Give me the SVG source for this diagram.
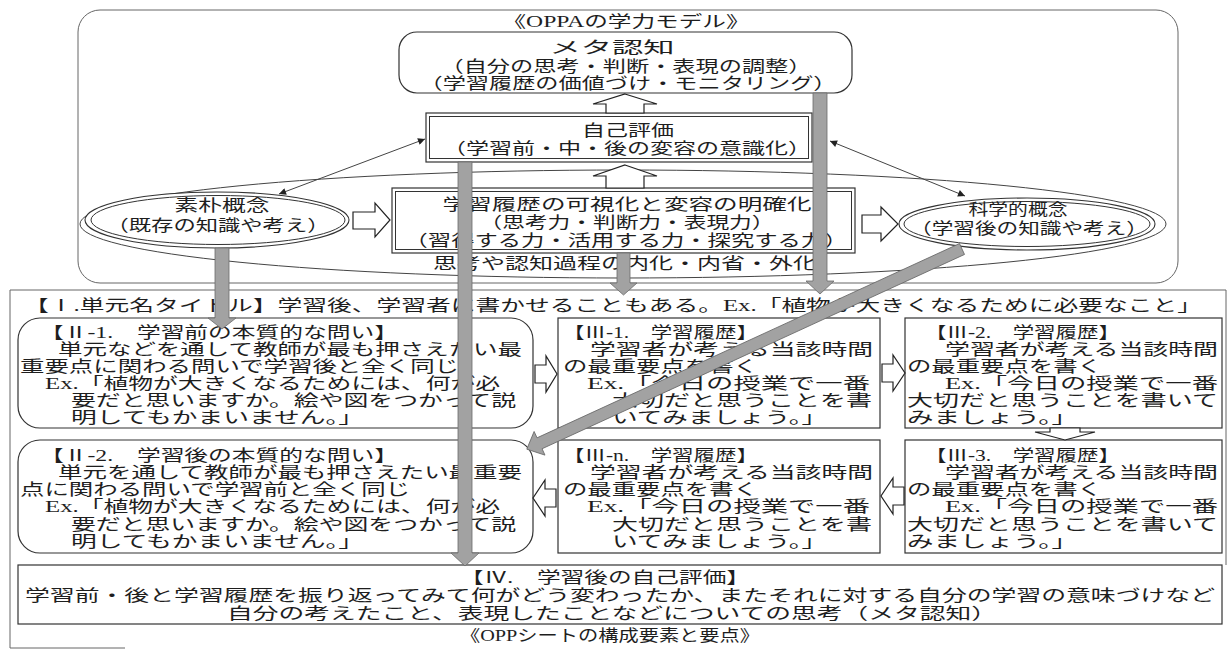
<svg xmlns="http://www.w3.org/2000/svg" width="1230" height="650" viewBox="0 0 1230 650">
<defs>
<style>
.t{font-family:"Liberation Serif","Noto Sans CJK JP",serif;font-size:16px;fill:#1e1e1e}
.c{text-anchor:middle}
.box{fill:#fff;stroke:#333;stroke-width:1.2}
.frame{fill:none;stroke:#666;stroke-width:1}
.line{fill:none;stroke:#444;stroke-width:1}
.bar{fill:#a2a2a2;stroke:#6a6a6a;stroke-width:0.8}
.ha{fill:#fff;stroke:#222;stroke-width:1.2}
.ell{fill:#fff;stroke:#333;stroke-width:1.1}
</style>
<marker id="ah" viewBox="0 0 10 10" refX="10" refY="5" markerWidth="12" markerHeight="7" markerUnits="userSpaceOnUse" orient="auto-start-reverse">
<path d="M0,0 L10,5 L0,10 z" fill="#222"/>
</marker>
</defs>
<rect width="1230" height="650" fill="#fff"/>

<!-- upper model container -->
<g id="model-frame">
<rect x="78" y="10" width="1100" height="273" rx="22" class="frame" stroke="#555"/>
<text class="t c" x="626" y="27" textLength="247" lengthAdjust="spacingAndGlyphs">《OPPAの学力モデル》</text>
<ellipse cx="623" cy="224" rx="543" ry="54" class="line"/>
<text class="t c" x="625" y="269" textLength="384" lengthAdjust="spacingAndGlyphs">思考や認知過程の内化・内省・外化</text>
</g>

<g id="meta">
<rect x="399" y="32" width="453" height="61" rx="18" class="box"/>
<text class="t c" x="612" y="53" textLength="125" lengthAdjust="spacingAndGlyphs">メタ認知</text>
<text class="t c" x="626" y="72" textLength="371" lengthAdjust="spacingAndGlyphs">（自分の思考・判断・表現の調整）</text>
<text class="t c" x="628" y="89" textLength="417" lengthAdjust="spacingAndGlyphs">（学習履歴の価値づけ・モニタリング）</text>
</g>

<g id="self-eval">
<rect x="426" y="113" width="386" height="49" class="box"/>
<rect x="429.5" y="116.5" width="379" height="42" fill="none" stroke="#333" stroke-width="1"/>
<text class="t c" x="628" y="136" textLength="92" lengthAdjust="spacingAndGlyphs">自己評価</text>
<text class="t c" x="627" y="154" textLength="368" lengthAdjust="spacingAndGlyphs">（学習前・中・後の変容の意識化）</text>
</g>

<g id="history-viz">
<rect x="392" y="188" width="463" height="65" class="box"/>
<rect x="395.5" y="191.5" width="456" height="58" fill="none" stroke="#333" stroke-width="1"/>
<text class="t c" x="627" y="210" textLength="369" lengthAdjust="spacingAndGlyphs">学習履歴の可視化と変容の明確化</text>
<text class="t c" x="627" y="228" textLength="295" lengthAdjust="spacingAndGlyphs">（思考力・判断力・表現力）</text>
<text class="t c" x="626" y="246" textLength="443" lengthAdjust="spacingAndGlyphs">（習得する力・活用する力・探究する力）</text>
</g>

<g id="naive">
<ellipse cx="217" cy="220" rx="132" ry="28" class="ell"/>
<ellipse cx="218" cy="220" rx="127" ry="24.5" fill="none" stroke="#333" stroke-width="1"/>
<text class="t c" x="222" y="211" textLength="95" lengthAdjust="spacingAndGlyphs">素朴概念</text>
<text class="t c" x="218" y="231" textLength="223" lengthAdjust="spacingAndGlyphs">（既存の知識や考え）</text>
</g>

<g id="scientific">
<ellipse cx="1027" cy="224" rx="128" ry="26" class="ell"/>
<ellipse cx="1027" cy="224" rx="123" ry="22.5" fill="none" stroke="#333" stroke-width="1"/>
<text class="t c" x="1018" y="215" textLength="99" lengthAdjust="spacingAndGlyphs">科学的概念</text>
<text class="t c" x="1029" y="234" textLength="238" lengthAdjust="spacingAndGlyphs">（学習後の知識や考え）</text>
</g>

<!-- lower sheet -->
<g id="sheet-frame">
<path d="M10,648 V290 H1226 V565" class="frame"/>
<path d="M10,648 H125" class="frame"/>
<text class="t" x="24" y="311" textLength="1178" lengthAdjust="spacingAndGlyphs">【Ⅰ.単元名タイトル】学習後、学習者に書かせることもある。Ex.「植物が大きくなるために必要なこと」</text>
<text class="t c" x="610" y="641" textLength="300" lengthAdjust="spacingAndGlyphs">《OPPシートの構成要素と要点》</text>
</g>

<g id="q-before">
<rect x="18" y="318" width="515" height="110" rx="22" class="box"/>
<text class="t" x="40" y="338" textLength="358" lengthAdjust="spacingAndGlyphs">【Ⅱ-1.　学習前の本質的な問い】</text>
<text class="t" x="58" y="355" textLength="464" lengthAdjust="spacingAndGlyphs">単元などを通して教師が最も押さえたい最</text>
<text class="t" x="20" y="372" textLength="439" lengthAdjust="spacingAndGlyphs">重要点に関わる問いで学習後と全く同じ</text>
<text class="t" x="45" y="389" textLength="455" lengthAdjust="spacingAndGlyphs">Ex.「植物が大きくなるためには、何が必</text>
<text class="t" x="71" y="406" textLength="445" lengthAdjust="spacingAndGlyphs">要だと思いますか。絵や図をつかって説</text>
<text class="t" x="71" y="423" textLength="293" lengthAdjust="spacingAndGlyphs">明してもかまいません。」</text>
</g>

<g id="q-after">
<rect x="18" y="440" width="515" height="113" rx="22" class="box"/>
<text class="t" x="40" y="461" textLength="358" lengthAdjust="spacingAndGlyphs">【Ⅱ-2.　学習後の本質的な問い】</text>
<text class="t" x="58" y="478" textLength="464" lengthAdjust="spacingAndGlyphs">単元を通して教師が最も押さえたい最重要</text>
<text class="t" x="20" y="495" textLength="390" lengthAdjust="spacingAndGlyphs">点に関わる問いで学習前と全く同じ</text>
<text class="t" x="45" y="512" textLength="455" lengthAdjust="spacingAndGlyphs">Ex.「植物が大きくなるためには、何が必</text>
<text class="t" x="71" y="530" textLength="445" lengthAdjust="spacingAndGlyphs">要だと思いますか。絵や図をつかって説</text>
<text class="t" x="71" y="547" textLength="293" lengthAdjust="spacingAndGlyphs">明してもかまいません。」</text>
</g>

<g id="hist-1">
<rect x="558" y="318" width="322" height="110" class="box"/>
<text class="t" x="563" y="338" textLength="195" lengthAdjust="spacingAndGlyphs">【Ⅲ-1.　学習履歴】</text>
<text class="t" x="590" y="355" textLength="283" lengthAdjust="spacingAndGlyphs">学習者が考える当該時間</text>
<text class="t" x="563" y="372" textLength="195" lengthAdjust="spacingAndGlyphs">の最重要点を書く</text>
<text class="t" x="587" y="389" textLength="283" lengthAdjust="spacingAndGlyphs">Ex.「今日の授業で一番</text>
<text class="t" x="612" y="406" textLength="260" lengthAdjust="spacingAndGlyphs">大切だと思うことを書</text>
<text class="t" x="612" y="423" textLength="215" lengthAdjust="spacingAndGlyphs">いてみましょう。」</text>
</g>

<g id="hist-2">
<rect x="905" y="318" width="317" height="110" class="box"/>
<text class="t" x="925" y="338" textLength="195" lengthAdjust="spacingAndGlyphs">【Ⅲ-2.　学習履歴】</text>
<text class="t" x="945" y="355" textLength="273" lengthAdjust="spacingAndGlyphs">学習者が考える当該時間</text>
<text class="t" x="907" y="372" textLength="195" lengthAdjust="spacingAndGlyphs">の最重要点を書く</text>
<text class="t" x="945" y="389" textLength="273" lengthAdjust="spacingAndGlyphs">Ex.「今日の授業で一番</text>
<text class="t" x="907" y="406" textLength="311" lengthAdjust="spacingAndGlyphs">大切だと思うことを書いて</text>
<text class="t" x="907" y="423" textLength="171" lengthAdjust="spacingAndGlyphs">みましょう。」</text>
</g>

<g id="hist-3">
<rect x="905" y="440" width="317" height="113" class="box"/>
<text class="t" x="925" y="461" textLength="195" lengthAdjust="spacingAndGlyphs">【Ⅲ-3.　学習履歴】</text>
<text class="t" x="945" y="478" textLength="273" lengthAdjust="spacingAndGlyphs">学習者が考える当該時間</text>
<text class="t" x="907" y="495" textLength="195" lengthAdjust="spacingAndGlyphs">の最重要点を書く</text>
<text class="t" x="945" y="512" textLength="273" lengthAdjust="spacingAndGlyphs">Ex.「今日の授業で一番</text>
<text class="t" x="907" y="530" textLength="311" lengthAdjust="spacingAndGlyphs">大切だと思うことを書いて</text>
<text class="t" x="907" y="547" textLength="171" lengthAdjust="spacingAndGlyphs">みましょう。」</text>
</g>

<g id="hist-n">
<rect x="558" y="440" width="322" height="113" class="box"/>
<text class="t" x="563" y="461" textLength="195" lengthAdjust="spacingAndGlyphs">【Ⅲ-n.　学習履歴】</text>
<text class="t" x="590" y="478" textLength="283" lengthAdjust="spacingAndGlyphs">学習者が考える当該時間</text>
<text class="t" x="563" y="495" textLength="195" lengthAdjust="spacingAndGlyphs">の最重要点を書く</text>
<text class="t" x="587" y="512" textLength="283" lengthAdjust="spacingAndGlyphs">Ex.「今日の授業で一番</text>
<text class="t" x="612" y="530" textLength="260" lengthAdjust="spacingAndGlyphs">大切だと思うことを書</text>
<text class="t" x="612" y="547" textLength="215" lengthAdjust="spacingAndGlyphs">いてみましょう。」</text>
</g>

<g id="self-eval-after">
<rect x="18" y="565" width="1204" height="59" class="box"/>
<text class="t c" x="605" y="583" textLength="290" lengthAdjust="spacingAndGlyphs">【Ⅳ.　学習後の自己評価】</text>
<text class="t" x="25" y="601" textLength="1190" lengthAdjust="spacingAndGlyphs">学習前・後と学習履歴を振り返ってみて何がどう変わったか、またそれに対する自分の学習の意味づけなど</text>
<text class="t c" x="612" y="619" textLength="770" lengthAdjust="spacingAndGlyphs">自分の考えたこと、表現したことなどについての思考（メタ認知）</text>
</g>

<g id="connectors">
<!-- hollow block arrows -->
<polygon class="ha" points="625,94 657,104 644,104 644,113 606,113 606,104 593,104"/>
<polygon class="ha" points="625,165 657,176 644,176 644,188 606,188 606,176 593,176"/>
<polygon class="ha" points="353,212 375,212 375,203 390,220 375,237 375,229 353,229"/>
<polygon class="ha" points="862,215 881,215 881,207 898,224 881,241 881,233 862,233"/>
<polygon class="ha" points="535,365 546,365 546,356 557,374 546,392 546,383 535,383"/>
<polygon class="ha" points="882,364 893,364 893,355 905,373 893,391 893,382 882,382"/>
<polygon class="ha" points="1050,428 1080,428 1080,432 1095,432 1065,440 1035,432 1050,432"/>
<polygon class="ha" points="904,487 893,487 893,478 881,496 893,514 893,505 904,505"/>
<polygon class="ha" points="556,489 545,489 545,480 533,498 545,516 545,507 556,507"/>
<!-- thin two-way arrows -->
<line x1="279" y1="194" x2="425" y2="139" class="line" stroke="#222" marker-start="url(#ah)" marker-end="url(#ah)"/>
<line x1="830" y1="141" x2="965" y2="196" class="line" stroke="#222" marker-start="url(#ah)" marker-end="url(#ah)"/>
<!-- gray flow bars -->
<polygon class="bar" points="215,248 229,248 229,318 236,318 222,329 208,318 215,318"/>
<polygon class="bar" points="458,162 472,162 472,553 479,553 465,566 451,553 458,553"/>
<polygon class="bar" points="617,253 630,253 630,283 637,283 623.5,295 610,283 617,283"/>
<polygon class="bar" points="813,93 827,93 827,281 834,281 820,294 806,281 813,281"/>
<g transform="translate(962,249) rotate(155.3)">
<polygon class="bar" points="0,-6 465,-6 465,-13 479,0 465,13 465,6 0,6"/>
</g>
</g>
</svg>
